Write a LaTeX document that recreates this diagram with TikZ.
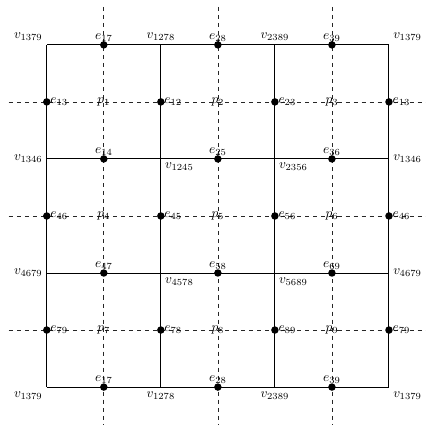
\documentclass[tikz,border=0pt]{standalone}
\begin{document}
\begin{tikzpicture}

% --- Styles ---
\tikzset{
    cellline/.style={draw=black, line width=0.75pt},
    dualline/.style={draw=black!85, dashed, line width=0.55pt},
    point/.style={circle, fill=black, inner sep=0pt, minimum size=5.6pt},
    vlabel/.style={inner sep=3pt},
    elabel/.style={inner sep=2.5pt},
    plabel/.style={inner sep=1pt}
}

\useasboundingbox (-1.23,-1.05) rectangle (9.97,10.18);

% --- Hoekpunten van het rooster ---
\coordinate (v00) at (0,0);  \coordinate (v10) at (3,0);
\coordinate (v20) at (6,0);  \coordinate (v30) at (9,0);
\coordinate (v01) at (0,3);  \coordinate (v11) at (3,3);
\coordinate (v21) at (6,3);  \coordinate (v31) at (9,3);
\coordinate (v02) at (0,6);  \coordinate (v12) at (3,6);
\coordinate (v22) at (6,6);  \coordinate (v32) at (9,6);
\coordinate (v03) at (0,9);  \coordinate (v13) at (3,9);
\coordinate (v23) at (6,9);  \coordinate (v33) at (9,9);

% --- Eindpunten van de gestippelde lijnen ---
\coordinate (dl1) at (-1,7.5);  \coordinate (dr1) at (10,7.5);
\coordinate (dl2) at (-1,4.5);  \coordinate (dr2) at (10,4.5);
\coordinate (dl3) at (-1,1.5);  \coordinate (dr3) at (10,1.5);
\coordinate (dt1) at (1.5,10);  \coordinate (db1) at (1.5,-1);
\coordinate (dt2) at (4.5,10);  \coordinate (db2) at (4.5,-1);
\coordinate (dt3) at (7.5,10);  \coordinate (db3) at (7.5,-1);

% --- Volle lijnen (cellen) ---
\draw[cellline] (v03) -- (v33);
\draw[cellline] (v02) -- (v32);
\draw[cellline] (v01) -- (v31);
\draw[cellline] (v00) -- (v30);
\draw[cellline] (v00) -- (v03);
\draw[cellline] (v10) -- (v13);
\draw[cellline] (v20) -- (v23);
\draw[cellline] (v30) -- (v33);

% --- Gestippelde lijnen (duaal) ---
\draw[dualline] (dl1) -- (dr1);
\draw[dualline] (dl2) -- (dr2);
\draw[dualline] (dl3) -- (dr3);
\draw[dualline] (dt1) -- (db1);
\draw[dualline] (dt2) -- (db2);
\draw[dualline] (dt3) -- (db3);

% --- Labels hoekpunten ---
\node[vlabel, above left]  (lv03) at (v03) {$v_{1379}$};
\node[vlabel, above]       (lv13) at (v13) {$v_{1278}$};
\node[vlabel, above]       (lv23) at (v23) {$v_{2389}$};
\node[vlabel, above right] (lv33) at (v33) {$v_{1379}$};
\node[vlabel, left]        (lv02) at (v02) {$v_{1346}$};
\node[vlabel, below right] (lv12) at (v12) {$v_{1245}$};
\node[vlabel, below right] (lv22) at (v22) {$v_{2356}$};
\node[vlabel, right]       (lv32) at (v32) {$v_{1346}$};
\node[vlabel, left]        (lv01) at (v01) {$v_{4679}$};
\node[vlabel, below right] (lv11) at (v11) {$v_{4578}$};
\node[vlabel, below right] (lv21) at (v21) {$v_{5689}$};
\node[vlabel, right]       (lv31) at (v31) {$v_{4679}$};
\node[vlabel, below left]  (lv00) at (v00) {$v_{1379}$};
\node[vlabel, below]       (lv10) at (v10) {$v_{1278}$};
\node[vlabel, below]       (lv20) at (v20) {$v_{2389}$};
\node[vlabel, below right] (lv30) at (v30) {$v_{1379}$};

% --- Punten op horizontale ribben ---
\node[point] (e17t) at (1.5,9) {};
\node[point] (e28t) at (4.5,9) {};
\node[point] (e39t) at (7.5,9) {};
\node[point] (e14)  at (1.5,6) {};
\node[point] (e25)  at (4.5,6) {};
\node[point] (e36)  at (7.5,6) {};
\node[point] (e47)  at (1.5,3) {};
\node[point] (e58)  at (4.5,3) {};
\node[point] (e69)  at (7.5,3) {};
\node[point] (e17b) at (1.5,0) {};
\node[point] (e28b) at (4.5,0) {};
\node[point] (e39b) at (7.5,0) {};

\node[elabel, above] (le17t) at (e17t) {$e_{17}$};
\node[elabel, above] (le28t) at (e28t) {$e_{28}$};
\node[elabel, above] (le39t) at (e39t) {$e_{39}$};
\node[elabel, above] (le14)  at (e14)  {$e_{14}$};
\node[elabel, above] (le25)  at (e25)  {$e_{25}$};
\node[elabel, above] (le36)  at (e36)  {$e_{36}$};
\node[elabel, above] (le47)  at (e47)  {$e_{47}$};
\node[elabel, above] (le58)  at (e58)  {$e_{58}$};
\node[elabel, above] (le69)  at (e69)  {$e_{69}$};
\node[elabel, above] (le17b) at (e17b) {$e_{17}$};
\node[elabel, above] (le28b) at (e28b) {$e_{28}$};
\node[elabel, above] (le39b) at (e39b) {$e_{39}$};

% --- Punten op verticale ribben ---
\node[point] (e13l) at (0,7.5) {};
\node[point] (e12)  at (3,7.5) {};
\node[point] (e23)  at (6,7.5) {};
\node[point] (e13r) at (9,7.5) {};
\node[point] (e46l) at (0,4.5) {};
\node[point] (e45)  at (3,4.5) {};
\node[point] (e56)  at (6,4.5) {};
\node[point] (e46r) at (9,4.5) {};
\node[point] (e79l) at (0,1.5) {};
\node[point] (e78)  at (3,1.5) {};
\node[point] (e89)  at (6,1.5) {};
\node[point] (e79r) at (9,1.5) {};

\node[elabel, right] (le13l) at (e13l) {$e_{13}$};
\node[elabel, right] (le12)  at (e12)  {$e_{12}$};
\node[elabel, right] (le23)  at (e23)  {$e_{23}$};
\node[elabel, right] (le13r) at (e13r) {$e_{13}$};
\node[elabel, right] (le46l) at (e46l) {$e_{46}$};
\node[elabel, right] (le45)  at (e45)  {$e_{45}$};
\node[elabel, right] (le56)  at (e56)  {$e_{56}$};
\node[elabel, right] (le46r) at (e46r) {$e_{46}$};
\node[elabel, right] (le79l) at (e79l) {$e_{79}$};
\node[elabel, right] (le78)  at (e78)  {$e_{78}$};
\node[elabel, right] (le89)  at (e89)  {$e_{89}$};
\node[elabel, right] (le79r) at (e79r) {$e_{79}$};

% --- Cellen p_i ---
\node[plabel] (p1) at (1.5,7.5) {$p_1$};
\node[plabel] (p2) at (4.5,7.5) {$p_2$};
\node[plabel] (p3) at (7.5,7.5) {$p_3$};
\node[plabel] (p4) at (1.5,4.5) {$p_4$};
\node[plabel] (p5) at (4.5,4.5) {$p_5$};
\node[plabel] (p6) at (7.5,4.5) {$p_6$};
\node[plabel] (p7) at (1.5,1.5) {$p_7$};
\node[plabel] (p8) at (4.5,1.5) {$p_8$};
\node[plabel] (p9) at (7.5,1.5) {$p_9$};

\end{tikzpicture}
\end{document}
